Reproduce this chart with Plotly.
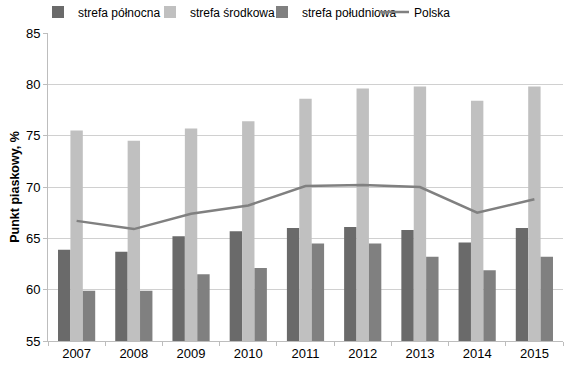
import plotly.graph_objects as go

years = ["2007", "2008", "2009", "2010", "2011", "2012", "2013", "2014", "2015"]
polnocna = [63.9, 63.7, 65.2, 65.7, 66.0, 66.1, 65.8, 64.6, 66.0]
srodkowa = [75.5, 74.5, 75.7, 76.4, 78.6, 79.6, 79.8, 78.4, 79.8]
poludniowa = [59.9, 59.9, 61.5, 62.1, 64.5, 64.5, 63.2, 61.9, 63.2]
polska = [66.7, 65.9, 67.4, 68.2, 70.1, 70.2, 70.0, 67.5, 68.8]

fig = go.Figure()
fig.add_trace(go.Bar(x=years, y=polnocna, name="strefa północna", marker_color="#6a6a6a", marker_line_width=0))
fig.add_trace(go.Bar(x=years, y=srodkowa, name="strefa środkowa", marker_color="#c0c0c0", marker_line_width=0))
fig.add_trace(go.Bar(x=years, y=poludniowa, name="strefa południowa", marker_color="#808080", marker_line_width=0))
fig.add_trace(go.Scatter(x=years, y=polska, name="Polska", mode="lines",
                         line=dict(color="#808080", width=2.5)))

fig.update_layout(
    width=569, height=371,
    margin=dict(l=48, r=6, t=33, b=30, autoexpand=False),
    plot_bgcolor="white", paper_bgcolor="white",
    font=dict(family="Liberation Sans, Arial, sans-serif", size=12, color="#000000"),
    barmode="group", bargap=0.35, bargroupgap=0,
    showlegend=True,
    legend=dict(orientation="h", xref="container", x=38/569, xanchor="left",
                yref="container", y=1 - 12/371, yanchor="middle",
                font=dict(size=12), itemwidth=30, entrywidth=67, tracegroupgap=0,
                bgcolor="rgba(0,0,0,0)"),
    xaxis=dict(type="category", showgrid=False, showline=True, linecolor="#bdbdbd",
               ticks="outside", tickson="boundaries", ticklen=4, tickcolor="#bdbdbd",
               tickfont=dict(size=13)),
    yaxis=dict(range=[55, 85], dtick=5, showgrid=True, gridcolor="#d0d0d0",
               showline=True, linecolor="#bdbdbd", ticks="outside", ticklen=4,
               tickcolor="#bdbdbd", tickfont=dict(size=13), zeroline=False,
               title=dict(text="<b>Punkt piaskowy, %</b>", font=dict(size=12.5), standoff=3)),
)

fig.write_html("out.html", config={"displayModeBar": False},
               post_script="document.body.style.margin='0';")
